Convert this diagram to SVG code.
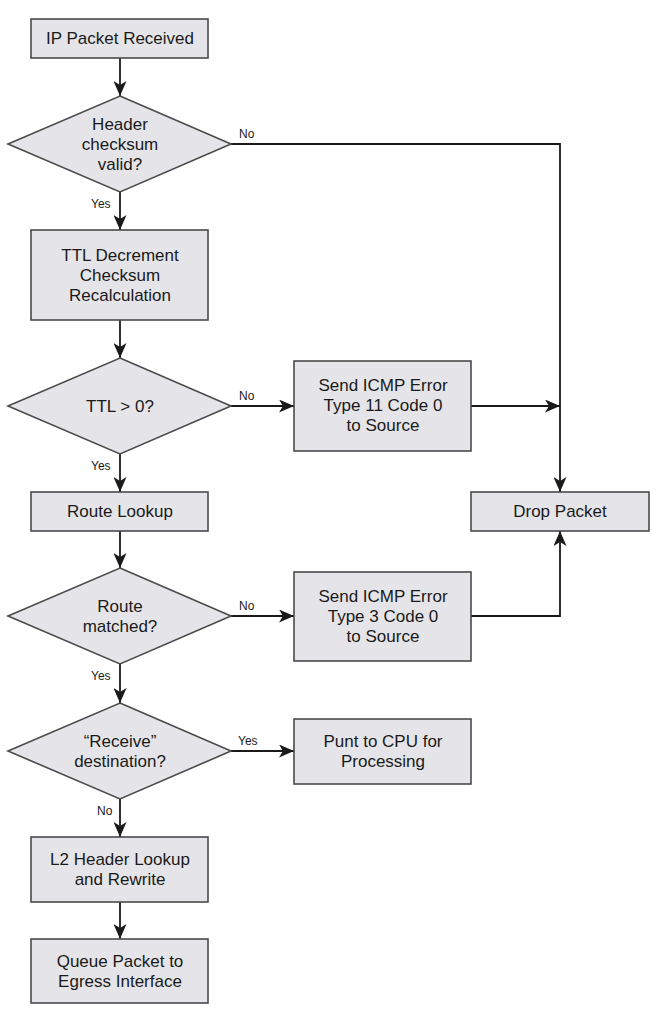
<svg xmlns="http://www.w3.org/2000/svg" width="656" height="1024" viewBox="0 0 656 1024">
<style>
.box{fill:#e5e5e9;stroke:#4a4a4a;stroke-width:1.6}
.t{font-family:"Liberation Sans",Arial,sans-serif;font-size:17px;fill:#1a1a1a;text-anchor:middle}
.l{font-family:"Liberation Sans",Arial,sans-serif;font-size:12px;fill:#1a1a1a}
.c{fill:none;stroke:#1a1a1a;stroke-width:1.8}
</style>
<defs>
<marker id="ah" viewBox="0 0 15 13" refX="15" refY="6.5" markerWidth="15" markerHeight="13" markerUnits="userSpaceOnUse" orient="auto">
<path d="M0,0 L15,6.5 L0,13 L4,6.5 z" fill="#1a1a1a"/>
</marker>
</defs>
<g id="connectors">
<path class="c" d="M120,58 V96" marker-end="url(#ah)"/>
<path class="c" d="M120,192 V230" marker-end="url(#ah)"/>
<path class="c" d="M120,320 V358" marker-end="url(#ah)"/>
<path class="c" d="M120,454 V492" marker-end="url(#ah)"/>
<path class="c" d="M120,531 V568" marker-end="url(#ah)"/>
<path class="c" d="M120,664 V703" marker-end="url(#ah)"/>
<path class="c" d="M120,799 V837" marker-end="url(#ah)"/>
<path class="c" d="M120,902 V939" marker-end="url(#ah)"/>
<path class="c" d="M231,144 H560 V492" marker-end="url(#ah)"/>
<path class="c" d="M231,406 H294" marker-end="url(#ah)"/>
<path class="c" d="M471,406 H560" marker-end="url(#ah)"/>
<path class="c" d="M231,616 H294" marker-end="url(#ah)"/>
<path class="c" d="M471,616 H560 V531" marker-end="url(#ah)"/>
<path class="c" d="M231,751 H294" marker-end="url(#ah)"/>
<text class="l" x="239" y="138">No</text>
<text class="l" x="91" y="208">Yes</text>
<text class="l" x="239" y="400">No</text>
<text class="l" x="91" y="470">Yes</text>
<text class="l" x="239" y="610">No</text>
<text class="l" x="91" y="680">Yes</text>
<text class="l" x="238" y="745">Yes</text>
<text class="l" x="97" y="815">No</text>
</g>
<g id="ip-received">
<rect class="box" x="31" y="19" width="177" height="39"/>
<text class="t" x="120" y="44">IP Packet Received</text>
</g>
<g id="checksum-valid">
<polygon class="box" points="120,96 231,144 120,192 8,144"/>
<text class="t" x="120" y="130">Header</text>
<text class="t" x="120" y="150">checksum</text>
<text class="t" x="120" y="170">valid?</text>
</g>
<g id="ttl-decrement">
<rect class="box" x="31" y="230" width="177" height="90"/>
<text class="t" x="120" y="261">TTL Decrement</text>
<text class="t" x="120" y="281">Checksum</text>
<text class="t" x="120" y="301">Recalculation</text>
</g>
<g id="ttl-check">
<polygon class="box" points="120,358 231,406 120,454 8,406"/>
<text class="t" x="120" y="412">TTL &gt; 0?</text>
</g>
<g id="icmp-11">
<rect class="box" x="294" y="361" width="177" height="90"/>
<text class="t" x="383" y="391">Send ICMP Error</text>
<text class="t" x="383" y="411">Type 11 Code 0</text>
<text class="t" x="383" y="431">to Source</text>
</g>
<g id="drop-packet">
<rect class="box" x="471" y="492" width="178" height="39"/>
<text class="t" x="560" y="517">Drop Packet</text>
</g>
<g id="route-lookup">
<rect class="box" x="31" y="492" width="177" height="39"/>
<text class="t" x="120" y="517">Route Lookup</text>
</g>
<g id="route-matched">
<polygon class="box" points="120,568 231,616 120,664 8,616"/>
<text class="t" x="120" y="612">Route</text>
<text class="t" x="120" y="632">matched?</text>
</g>
<g id="icmp-3">
<rect class="box" x="294" y="572" width="177" height="89"/>
<text class="t" x="383" y="602">Send ICMP Error</text>
<text class="t" x="383" y="622">Type 3 Code 0</text>
<text class="t" x="383" y="642">to Source</text>
</g>
<g id="receive-dest">
<polygon class="box" points="120,703 231,751 120,799 8,751"/>
<text class="t" x="120" y="747">“Receive”</text>
<text class="t" x="120" y="767">destination?</text>
</g>
<g id="punt-cpu">
<rect class="box" x="294" y="719" width="177" height="65"/>
<text class="t" x="383" y="747">Punt to CPU for</text>
<text class="t" x="383" y="767">Processing</text>
</g>
<g id="l2-rewrite">
<rect class="box" x="31" y="837" width="177" height="65"/>
<text class="t" x="120" y="865">L2 Header Lookup</text>
<text class="t" x="120" y="885">and Rewrite</text>
</g>
<g id="queue-egress">
<rect class="box" x="31" y="939" width="177" height="64"/>
<text class="t" x="120" y="967">Queue Packet to</text>
<text class="t" x="120" y="987">Egress Interface</text>
</g>
</svg>
